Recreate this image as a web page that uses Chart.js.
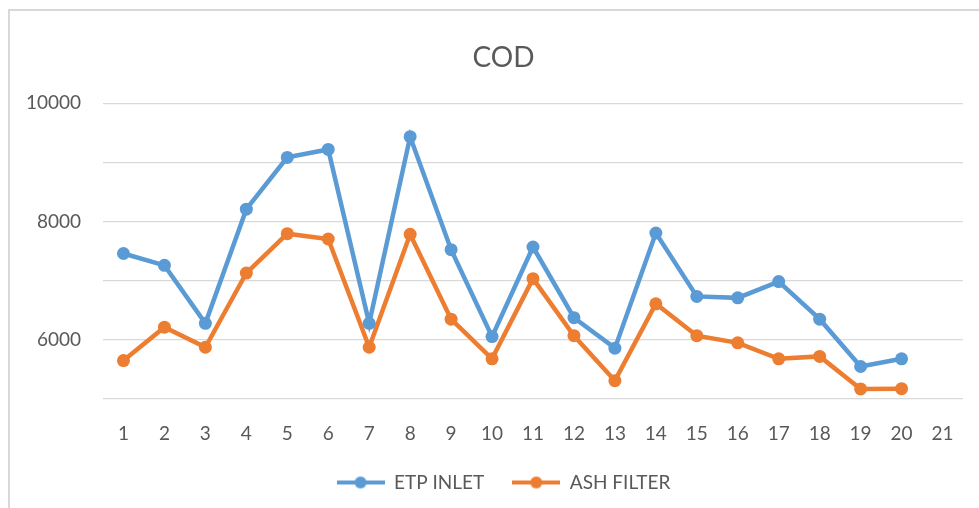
<!DOCTYPE html>
<html>
<head>
<meta charset="utf-8">
<title>COD</title>
<script src="https://cdn.jsdelivr.net/npm/chart.js@4/dist/chart.umd.min.js"></script>
<style>
  html, body { margin: 0; padding: 0; background: #fff; }
  #wrap { position: relative; width: 979px; height: 508px; overflow: hidden; }
  #frame { position: absolute; left: 8px; top: 9px; width: 1000px; height: 600px;
           border-left: 2px solid #d9d9d9; border-top: 2px solid #d9d9d9; }
  /* a bit wider than the window so title and legend centre where Excel put them */
  #box { position: absolute; left: 0; top: 0; width: 1007px; height: 508px; }
</style>
</head>
<body>
<div id="wrap">
  <div id="frame"></div>
  <div id="box"><canvas id="codChart"></canvas></div>
</div>
<script>
// Sample numbers 1..21 (21 has no readings)
const days = ['1','2','3','4','5','6','7','8','9','10','11','12','13','14','15','16','17','18','19','20','21'];

// COD readings
const etpInlet  = [7460, 7260, 6280, 8210, 9085, 9220, 6280, 9435, 7525, 6055,
                   7570, 6375, 5860, 7805, 6735, 6710, 6985, 6350, 5550, 5680];
const ashFilter = [5650, 6215, 5875, 7130, 7795, 7705, 5875, 7785, 6350, 5680,
                   7035, 6070, 5310, 6610, 6070, 5950, 5680, 5720, 5170, 5175];

const yMin = 5000, yMax = 10000, yStep = 1000;

const BLUE = '#5b9bd5';
const ORANGE = '#ed7d31';
const TEXT = '#595959';
const GRID = '#d9d9d9';

// line + dot marker for the legend, like the Excel one
function legendMarker(color) {
  const c = document.createElement('canvas');
  c.width = 48; c.height = 14;
  const g = c.getContext('2d');
  g.strokeStyle = color;
  g.lineWidth = 4;
  g.beginPath(); g.moveTo(0, 7); g.lineTo(48, 7); g.stroke();
  g.fillStyle = color;
  g.beginPath(); g.arc(24, 7, 6, 0, Math.PI * 2); g.fill();
  return c;
}
const markers = [legendMarker(BLUE), legendMarker(ORANGE)];

function series(label, data, color) {
  return {
    label, data,
    borderColor: color, backgroundColor: color,
    borderWidth: 4.5, tension: 0,
    pointRadius: 6.5, pointHoverRadius: 6.5,
    pointBackgroundColor: color, pointBorderColor: color, pointBorderWidth: 0
  };
}

new Chart(document.getElementById('codChart'), {
  type: 'line',
  data: {
    labels: days,
    datasets: [series('ETP INLET', etpInlet, BLUE), series('ASH FILTER', ashFilter, ORANGE)]
  },
  options: {
    responsive: true,
    maintainAspectRatio: false,
    animation: false,
    layout: { padding: { left: 0, right: 0, top: 0, bottom: 6 } },
    plugins: {
      title: {
        display: true, text: 'COD', color: TEXT,
        font: { family: 'Lato', size: 28, weight: 'normal' },
        padding: { top: 41, bottom: 28.7 }
      },
      legend: {
        position: 'bottom',
        labels: {
          color: TEXT,
          font: { family: 'Lato', size: 19 },
          usePointStyle: true,
          pointStyleWidth: 48,
          padding: 28,
          generateLabels(chart) {
            const items = Chart.defaults.plugins.legend.labels.generateLabels(chart);
            items.forEach((it, i) => { it.pointStyle = markers[i]; });
            return items;
          }
        }
      },
      tooltip: { enabled: false }
    },
    scales: {
      x: {
        offset: true,
        afterFit(scale) { scale.height = 46; },
        grid: { display: false, drawTicks: false },
        border: { display: false },
        ticks: {
          color: TEXT, font: { family: 'Lato', size: 19 },
          padding: 23.6, maxRotation: 0, autoSkip: false
        }
      },
      y: {
        min: yMin, max: yMax,
        afterFit(scale) { scale.width = 103; },
        grid: { color: GRID, lineWidth: 1.3, drawTicks: false },
        border: { display: false },
        ticks: {
          stepSize: yStep,
          color: TEXT, font: { family: 'Lato', size: 19 },
          padding: 22,
          callback: v => (v % 2000 === 0 ? String(v) : '')
        }
      },
      // empty spacer on the right, keeps the plot's right edge in place
      yPad: {
        position: 'right',
        afterFit(scale) { scale.width = 44; },
        grid: { display: false, drawTicks: false },
        border: { display: false },
        ticks: { display: false }
      }
    }
  }
});
</script>
</body>
</html>
